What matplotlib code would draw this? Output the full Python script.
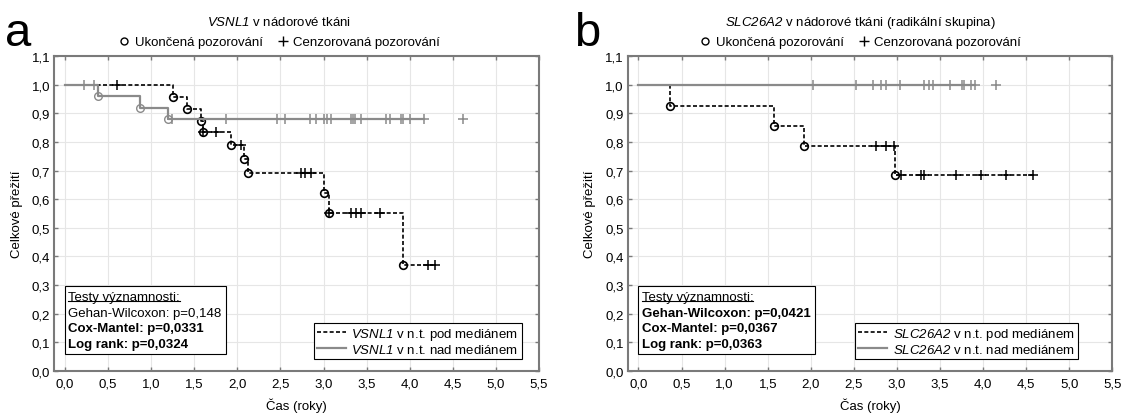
import numpy as np
import matplotlib
matplotlib.use('Agg')
import matplotlib.pyplot as plt
from matplotlib.lines import Line2D
from matplotlib.patches import Rectangle
from matplotlib.ticker import MultipleLocator, FuncFormatter

plt.rcParams['font.family'] = ['Liberation Sans', 'DejaVu Sans']
plt.rcParams['font.size'] = 9.5
# gene names go through mathtext; make rm italic too so the digits lean as well
plt.rcParams['mathtext.fontset'] = 'custom'
plt.rcParams['mathtext.rm'] = 'Liberation Sans:italic'
plt.rcParams['mathtext.it'] = 'Liberation Sans:italic'
plt.rcParams['mathtext.bf'] = 'Liberation Sans:bold'

# --- panel a: VSNL1 ---
a_lo_event_t = [1.25, 1.415, 1.58, 1.60, 1.93, 2.08, 2.12, 3.00, 3.06, 3.92]
a_lo_event_s = [0.956, 0.916, 0.875, 0.834, 0.788, 0.740, 0.690, 0.620, 0.553, 0.369]
a_lo_cens = [0.60, 1.60, 1.75, 2.04, 2.74, 2.79, 2.85, 3.06, 3.32, 3.38, 3.44, 3.65, 4.21, 4.29]
a_lo_end = 4.29
a_hi_event_t = [0.385, 0.873, 1.19]
a_hi_event_s = [0.960, 0.918, 0.879]
a_hi_cens = [0.22, 0.33, 1.24, 1.865, 2.46, 2.556, 2.846, 2.907, 3.0, 3.042, 3.089, 3.32, 3.34,
             3.36, 3.43, 3.726, 3.776, 3.90, 3.927, 4.008, 4.16, 4.62]
a_hi_end = 4.16
a_tests = ["Gehan-Wilcoxon: p=0,148", "Cox-Mantel: p=0,0331", "Log rank: p=0,0324"]
a_bold = [False, True, True]

# --- panel b: SLC26A2 ---
b_lo_event_t = [0.362, 1.573, 1.92, 2.98]
b_lo_event_s = [0.927, 0.855, 0.785, 0.686]
b_lo_cens = [2.76, 2.87, 2.96, 3.05, 3.28, 3.31, 3.69, 3.97, 4.26, 4.58]
b_lo_end = 4.58
b_hi_event_t = []
b_hi_event_s = []
b_hi_cens = [2.02, 2.53, 2.72, 2.81, 2.87, 3.03, 3.31, 3.37, 3.42, 3.62, 3.75, 3.78, 3.86, 3.91, 4.15]
b_hi_end = 3.91
b_tests = ["Gehan-Wilcoxon: p=0,0421", "Cox-Mantel: p=0,0367", "Log rank: p=0,0363"]
b_bold = [True, True, True]

W, H = 1123, 414
GREY = '#8a8a8a'
SPINE = '#7a7a7a'


def surv_at(t, ev_t, ev_s):
    idx = np.searchsorted(ev_t, t, side='right')
    return 1.0 if idx == 0 else ev_s[idx - 1]


def draw_curve(ax, ev_t, ev_s, cens, end, color, ls, lw, z, mew):
    xs = [0.0] + list(ev_t) + [end]
    ys = [1.0] + list(ev_s) + [ev_s[-1] if ev_s else 1.0]
    if ls == 'dashed':
        ax.step(xs, ys, where='post', color=color, lw=lw, dashes=(2.4, 1.4), zorder=z)
    else:
        ax.step(xs, ys, where='post', color=color, lw=lw, zorder=z)
    if ev_t:
        ax.plot(ev_t, ev_s, ls='none', marker='o', ms=5.5, mfc='none', mec=color, mew=mew, zorder=z + 1)
    cy = [surv_at(c, ev_t, ev_s) for c in cens]
    ax.plot(cens, cy, ls='none', marker='+', ms=7, mec=color, mew=1.1, zorder=z + 1)


def panel(left_px, letter, letter_x, gene, title_rest, title_cx, lo, hi, tests, bold, leg_x):
    ax = fig.add_axes([left_px / W, (H - 371.7) / H, 484.7 / W, 314.4 / H])
    ax.set_xlim(-0.125, 5.5)
    ax.set_ylim(0, 1.1)
    ax.xaxis.set_major_locator(MultipleLocator(0.5))
    ax.yaxis.set_major_locator(MultipleLocator(0.1))
    fmt = FuncFormatter(lambda v, _: f'{v:.1f}'.replace('.', ','))
    ax.xaxis.set_major_formatter(fmt)
    ax.yaxis.set_major_formatter(fmt)
    ax.grid(True, color='#e6e6e6', lw=0.8, zorder=0)
    ax.set_axisbelow(True)
    for s in ax.spines.values():
        s.set_color(SPINE)
        s.set_linewidth(1.5)
    ax.tick_params(direction='in', top=True, right=True, length=3, width=1, color=SPINE)
    ax.tick_params(axis='x', pad=5)
    ax.tick_params(axis='y', pad=3)
    ax.set_ylabel('Celkové přežití')
    ax.yaxis.set_label_coords(-0.0646, 0.5)
    ax.set_xlabel('Čas (roky)')
    ax.xaxis.set_label_coords(0.5, -0.086)

    draw_curve(ax, *lo, 'black', 'dashed', 1.2, 3, 1.2)
    draw_curve(ax, *hi, GREY, 'solid', 1.6, 5, 1.0)

    # legend bottom right
    hs = [Line2D([], [], color='black', lw=1.2, dashes=(2.4, 1.4)),
          Line2D([], [], color=GREY, lw=1.6)]
    labs = [rf'$\it{{{gene}}}$ v n.t. pod mediánem', rf'$\it{{{gene}}}$ v n.t. nad mediánem']
    leg = ax.legend(hs, labs, loc='lower right', bbox_to_anchor=(leg_x, 0.037), borderaxespad=0,
                    fancybox=False, framealpha=1, edgecolor='black', handlelength=2.2,
                    handletextpad=0.4, labelspacing=0.05, borderpad=0.25)
    leg.get_frame().set_linewidth(0.8)

    # tests box
    base = [0.2249, 0.1753, 0.1257, 0.0760]
    tx = 0.029
    head = ax.text(tx, base[0], 'Testy významnosti:', transform=ax.transAxes, va='baseline', zorder=10)
    texts = [head]
    for t, b, y in zip(tests, bold, base[1:]):
        texts.append(ax.text(tx, y, t, transform=ax.transAxes, va='baseline',
                             fontweight='bold' if b else 'normal', zorder=10))

    # title and marker key above the axes
    fig.text(title_cx / W, (H - 23) / H, rf'$\it{{{gene}}}$' + title_rest, ha='center', va='center')
    key = [Line2D([], [], ls='none', marker='o', ms=5, mfc='none', mec='black', mew=1.0),
           Line2D([], [], ls='none', marker='+', ms=7, mec='black', mew=1.0)]
    fig.legend(key, ['Ukončená pozorování', 'Cenzorovaná pozorování'], loc='center',
               bbox_to_anchor=(title_cx / W, (H - 43) / H), ncol=2, frameon=False,
               handlelength=1.0, handletextpad=0.3, columnspacing=1.0)
    fig.text(letter_x / W, (H - 46) / H, letter, fontsize=34, va='baseline')
    return ax, texts


fig = plt.figure(figsize=(W / 100, H / 100), dpi=100)

panels = [
    panel(54.3, 'a', 5, 'VSNL1', ' v nádorové tkáni', 279,
          (a_lo_event_t, a_lo_event_s, a_lo_cens, a_lo_end),
          (a_hi_event_t, a_hi_event_s, a_hi_cens, a_hi_end), a_tests, a_bold, 0.964),
    panel(627.7, 'b', 574, 'SLC26A2', ' v nádorové tkáni (radikální skupina)', 860,
          (b_lo_event_t, b_lo_event_s, b_lo_cens, b_lo_end),
          (b_hi_event_t, b_hi_event_s, b_hi_cens, b_hi_end), b_tests, b_bold, 0.928),
]

# frame round the tests and underline of the heading, sized from the drawn text
fig.canvas.draw()
r = fig.canvas.get_renderer()
for ax, texts in panels:
    inv = ax.transAxes.inverted()
    boxes = [t.get_window_extent(r) for t in texts]
    x1 = max(b.x1 for b in boxes) + 4
    (rx1, _), = inv.transform([(x1, 0)])
    ax.add_patch(Rectangle((0.022, 0.053), rx1 - 0.022, 0.2685 - 0.053, transform=ax.transAxes,
                           fill=True, fc='white', ec='black', lw=0.8, zorder=9))
    hb = boxes[0]
    (ux0, _), (ux1, _) = inv.transform([(hb.x0, 0), (hb.x1, 0)])
    uy = 0.2249 - 1.5 / 314.4
    ax.plot([ux0, ux1], [uy, uy], color='black', lw=0.8, transform=ax.transAxes, zorder=10)

fig.savefig('out.png', dpi=100)
